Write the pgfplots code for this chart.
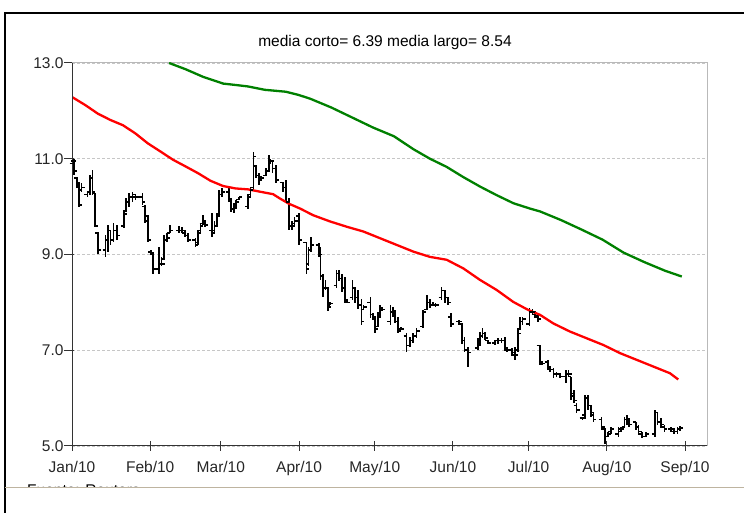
\documentclass[border=0pt]{standalone}
\usepackage{fontspec}
\setmainfont{Liberation Sans}
\usepackage{pgfplots}
\pgfplotsset{compat=1.18}
\usepackage{pgfplotstable}

\pgfdeclareplotmark{otick}{\pgfsetbuttcap\pgfsetlinewidth{1.6pt}\pgfpathmoveto{\pgfqpoint{-3pt}{0pt}}\pgfpathlineto{\pgfqpoint{0pt}{0pt}}\pgfusepathqstroke}
\pgfdeclareplotmark{ctick}{\pgfsetbuttcap\pgfsetlinewidth{1.6pt}\pgfpathmoveto{\pgfqpoint{0pt}{0pt}}\pgfpathlineto{\pgfqpoint{3pt}{0pt}}\pgfusepathqstroke}

\definecolor{mared}{RGB}{255,0,0}
\definecolor{magreen}{RGB}{0,128,0}
\definecolor{beige}{RGB}{190,180,160}

\pgfplotstableread{
d o h l c
0.2 10.9 11.12 10.75 10.95
0.9 10.95 11.0 10.67 10.75
2.1 10.6 10.62 10.38 10.5
2.8 10.5 10.52 10.0 10.03
3.8 10.35 10.49 10.31 10.4
6.1 10.25 10.31 10.21 10.3
7.1 10.3 10.66 10.24 10.6
8.1 10.6 10.76 10.24 10.3
9.2 10.28 10.28 9.58 9.6
10.4 9.45 9.48 9.02 9.1
13.3 9.1 9.41 8.95 9.3
14.4 9.3 9.62 9.06 9.5
15.3 9.5 9.51 9.2 9.3
16.4 9.3 9.65 9.27 9.5
17.7 9.5 9.62 9.3 9.4
20.6 9.6 9.93 9.55 9.85
21.5 9.9 10.17 9.89 10.1
22.6 10.1 10.28 10.0 10.2
24.0 10.2 10.31 10.1 10.25
25.2 10.2 10.24 10.14 10.2
27.9 10.2 10.28 10.03 10.1
28.9 10.0 10.03 9.65 9.7
30.0 9.8 9.82 9.27 9.3
31.4 9.05 9.09 8.99 9.0
32.2 9.0 9.06 8.6 8.7
34.6 8.7 9.16 8.6 8.8
35.5 8.8 8.95 8.75 8.8
36.5 8.9 9.41 8.88 9.3
37.6 9.3 9.44 9.27 9.35
38.8 9.45 9.62 9.44 9.5
42.5 9.5 9.6 9.45 9.5
43.5 9.5 9.58 9.44 9.5
44.8 9.45 9.51 9.37 9.4
46.0 9.4 9.44 9.27 9.3
48.9 9.3 9.34 9.16 9.2
49.9 9.25 9.51 9.2 9.45
50.9 9.5 9.65 9.48 9.6
51.8 9.65 9.82 9.62 9.7
52.8 9.65 9.69 9.58 9.62
55.5 9.5 9.86 9.37 9.45
56.5 9.5 9.69 9.44 9.6
57.5 9.6 9.86 9.58 9.8
58.4 9.8 10.35 9.79 10.25
59.5 10.25 10.38 10.21 10.3
62.1 10.3 10.38 10.1 10.15
63.1 10.15 10.17 9.89 9.95
64.1 9.95 10.07 9.86 10.0
65.0 10.0 10.14 9.96 10.1
66.3 10.15 10.21 10.14 10.2
69.8 10.0 10.24 9.96 10.2
70.7 10.25 10.38 10.21 10.35
71.9 10.4 11.15 10.35 11.05
72.9 10.85 10.87 10.59 10.65
74.0 10.65 10.7 10.45 10.55
74.8 10.6 10.65 10.55 10.6
76.9 10.65 10.8 10.63 10.75
78.0 10.75 11.08 10.73 10.95
78.7 10.95 11.0 10.9 10.95
79.5 10.95 10.97 10.7 10.8
80.8 10.8 10.87 10.49 10.55
83.5 10.5 10.52 10.31 10.4
84.8 10.4 10.56 10.07 10.1
85.9 10.1 10.17 9.51 9.6
87.1 9.6 9.69 9.51 9.6
88.2 9.65 9.79 9.62 9.7
90.0 9.8 9.86 9.2 9.3
92.9 9.25 9.27 8.6 8.7
93.8 8.8 9.16 8.75 9.1
94.6 9.1 9.37 9.06 9.2
97.8 9.2 9.23 8.95 9.0
98.5 9.0 9.16 8.47 8.55
99.5 8.55 8.6 8.12 8.3
100.5 8.3 8.47 8.26 8.3
101.5 8.3 8.33 7.81 7.9
102.4 7.95 8.0 7.95 7.98
104.9 8.35 8.68 8.29 8.6
105.9 8.6 8.68 8.45 8.5
107.0 8.5 8.6 8.22 8.3
108.1 8.3 8.54 7.98 8.05
109.1 8.0 8.05 7.98 8.0
111.2 8.1 8.47 8.05 8.3
112.3 8.3 8.33 7.98 8.1
113.5 8.1 8.26 7.87 7.95
114.7 7.95 8.08 7.53 7.6
115.6 7.85 7.94 7.84 7.9
118.3 8.0 8.12 7.67 7.75
119.2 7.75 7.77 7.63 7.7
120.2 7.65 7.7 7.35 7.45
121.3 7.5 7.8 7.49 7.7
122.2 7.75 7.94 7.7 7.85
123.0 7.85 7.91 7.81 7.85
126.2 7.6 7.94 7.53 7.8
127.1 7.8 7.91 7.7 7.75
128.1 7.75 7.84 7.56 7.6
129.2 7.6 7.7 7.35 7.4
130.3 7.45 7.49 7.42 7.45
132.6 7.3 7.35 6.97 7.1
134.0 7.1 7.28 7.07 7.2
135.3 7.2 7.35 7.15 7.3
136.6 7.3 7.46 7.25 7.4
139.2 7.5 7.84 7.46 7.8
140.7 7.85 8.15 7.84 8.0
141.9 8.0 8.08 7.88 7.95
143.2 7.95 8.0 7.92 7.95
144.1 7.95 7.98 7.9 7.95
146.5 8.1 8.33 8.05 8.25
147.8 8.25 8.26 7.98 8.1
149.0 8.1 8.12 7.95 8.0
150.3 7.7 7.77 7.49 7.55
153.5 7.6 7.63 7.53 7.6
154.6 7.55 7.56 7.14 7.2
155.6 7.2 7.28 6.97 7.0
156.9 7.0 7.07 6.66 6.95
160.9 7.05 7.25 7.0 7.1
161.8 7.1 7.39 7.1 7.3
162.7 7.3 7.46 7.25 7.35
163.8 7.35 7.39 7.21 7.25
165.0 7.2 7.21 7.14 7.15
167.6 7.15 7.21 7.11 7.2
168.9 7.2 7.25 7.14 7.2
170.3 7.2 7.25 7.15 7.2
171.5 7.2 7.28 7.0 7.05
172.4 7.0 7.04 6.97 7.0
174.3 7.0 7.04 6.87 6.95
175.6 6.9 7.07 6.8 6.9
176.8 7.0 7.42 6.97 7.35
177.7 7.45 7.7 7.42 7.6
178.6 7.6 7.7 7.53 7.65
181.3 7.55 7.88 7.5 7.8
182.5 7.8 7.87 7.75 7.8
183.5 7.75 7.81 7.67 7.72
184.8 7.7 7.74 7.6 7.65
185.4 7.1 7.11 6.69 6.75
186.2 6.75 6.76 6.69 6.72
188.6 6.75 6.8 6.59 6.65
189.6 6.6 6.66 6.55 6.6
190.8 6.6 6.62 6.41 6.5
192.1 6.5 6.55 6.45 6.5
193.4 6.5 6.52 6.41 6.45
195.8 6.45 6.59 6.31 6.5
196.8 6.5 6.59 6.45 6.5
197.9 6.45 6.45 5.96 6.05
198.9 6.1 6.17 5.89 5.95
200.0 5.85 5.89 5.68 5.75
202.4 5.58 5.61 5.54 5.58
203.4 5.65 6.07 5.61 6.0
204.6 6.0 6.07 5.75 5.85
205.8 5.85 5.86 5.61 5.7
206.7 5.65 5.68 5.51 5.55
209.9 5.55 5.61 5.33 5.4
211.2 5.35 5.37 5.05 5.2
212.5 5.2 5.3 5.19 5.25
213.7 5.3 5.4 5.26 5.35
216.6 5.25 5.4 5.19 5.3
217.7 5.35 5.4 5.3 5.35
219.0 5.4 5.61 5.37 5.55
219.9 5.55 5.65 5.44 5.5
220.9 5.5 5.58 5.4 5.45
223.5 5.5 5.51 5.33 5.4
224.6 5.4 5.44 5.23 5.3
225.9 5.25 5.3 5.16 5.2
227.5 5.2 5.3 5.19 5.25
231.0 5.25 5.75 5.19 5.7
232.1 5.7 5.72 5.44 5.5
233.4 5.5 5.58 5.37 5.45
234.8 5.4 5.44 5.3 5.35
237.4 5.35 5.4 5.3 5.35
238.7 5.3 5.37 5.26 5.3
240.0 5.3 5.4 5.26 5.35
241.1 5.35 5.42 5.32 5.38
}\ohlc

\pgfplotstableread{
d v
0 12.29
5.3 12.12
10.3 11.94
15.2 11.81
20.2 11.70
25.1 11.53
30.1 11.32
35.1 11.15
40 10.98
45 10.84
49.9 10.70
54.9 10.54
59.9 10.43
64.8 10.38
69.8 10.36
74.7 10.31
79.7 10.26
82.4 10.17
86 10.06
90.4 9.96
95.6 9.82
102.3 9.69
108.9 9.58
115.5 9.48
122.1 9.34
128.7 9.20
135.3 9.06
141.9 8.95
148.5 8.89
155.1 8.71
161.7 8.47
168.3 8.26
174.9 8.01
180.9 7.84
185.5 7.74
190.8 7.56
197.4 7.39
204 7.25
210.6 7.11
217.2 6.94
223.8 6.80
230.4 6.66
237 6.52
240.3 6.39
}\corto

\pgfplotstableread{
d v
38.5 13.0
45 12.87
52 12.71
59.9 12.57
65 12.54
69.8 12.51
76.4 12.44
84.7 12.40
90 12.33
94.6 12.25
102.8 12.07
111.1 11.86
119.4 11.65
127.6 11.47
135.3 11.20
141.9 11.00
148.5 10.83
155 10.62
161.7 10.42
168.3 10.24
175 10.07
181.5 9.96
185.5 9.90
193.8 9.72
202 9.52
210.3 9.31
218.6 9.04
226.9 8.84
235.1 8.66
241.7 8.54
}\largo

\begin{document}
\begin{tikzpicture}
\useasboundingbox (-72pt,-67pt) rectangle (672pt,446pt);
% outer frame
\draw[black, line width=1.2pt] (-67pt,-67pt) -- (-67pt,433pt) -- (672pt,433pt);
\draw[beige, line width=1pt] (-67pt,-41.5pt) -- (672pt,-41.5pt);
\begin{scope}
\clip (-66pt,-40.5pt) rectangle (200pt,-20pt);
\node[anchor=north west, inner sep=0pt, font=\fontsize{15.5}{18}\selectfont] at (-45pt,-38.5pt) {Fuente: Reuters};
\end{scope}
\node[font=\fontsize{15.5}{18}\selectfont] at (313pt,403pt) {media corto= 6.39 media largo= 8.54};
\begin{axis}[
  scale only axis, width=635pt, height=383pt,
  xmin=0, xmax=251.7, ymin=5, ymax=13,
  xtick={0,31,59,90,120,151,181,212,243},
  xticklabels={Jan/10,Feb/10,Mar/10,Apr/10,May/10,Jun/10,Jul/10,Aug/10,Sep/10},
  ytick={5,7,9,11,13},
  xtick pos=bottom, ytick pos=left,
  yticklabel style={/pgf/number format/.cd, fixed, fixed zerofill, precision=1},
  xticklabel style={yshift=-7pt},
  /pgf/number format/assume math mode=true,
  every tick label/.append style={font=\fontsize{15.5}{18}\selectfont, text=black!85},
  ymajorgrids, grid style={densely dashed, gray!45, line width=0.9pt},
  axis line style={gray!55, line width=1pt},
  tick align=center, major tick length=10pt,
  x tick style={black!80, line width=1pt},
  y tick style={black!80, line width=1pt, xshift=-3pt},
  clip=true,
]
% high-low bars
\addplot[draw=none, no markers, forget plot, line width=1.7pt,
  error bars/.cd, y dir=both, y explicit, error mark=none,
  error bar style={draw=black, solid, line width=1.7pt, line cap=butt}]
  table[x=d, y=c, y error plus expr=\thisrow{h}-\thisrow{c}, y error minus expr=\thisrow{c}-\thisrow{l}] {\ohlc};
% open (left) and close (right) ticks
\addplot[draw=none, only marks, line width=1.6pt, mark=otick, mark options={draw=black, solid, line width=1.6pt}] table[x=d, y=o] {\ohlc};
\addplot[draw=none, only marks, line width=1.6pt, mark=ctick, mark options={draw=black, solid, line width=1.6pt}] table[x=d, y=c] {\ohlc};
\addplot[mared, line width=2.3pt, mark=none] table[x=d, y=v] {\corto};
\addplot[magreen, line width=2.3pt, mark=none] table[x=d, y=v] {\largo};
\draw[black!80, line width=1.4pt] (rel axis cs:0,1) -- (rel axis cs:0,0) -- (rel axis cs:1,0);
\end{axis}
\end{tikzpicture}
\end{document}
